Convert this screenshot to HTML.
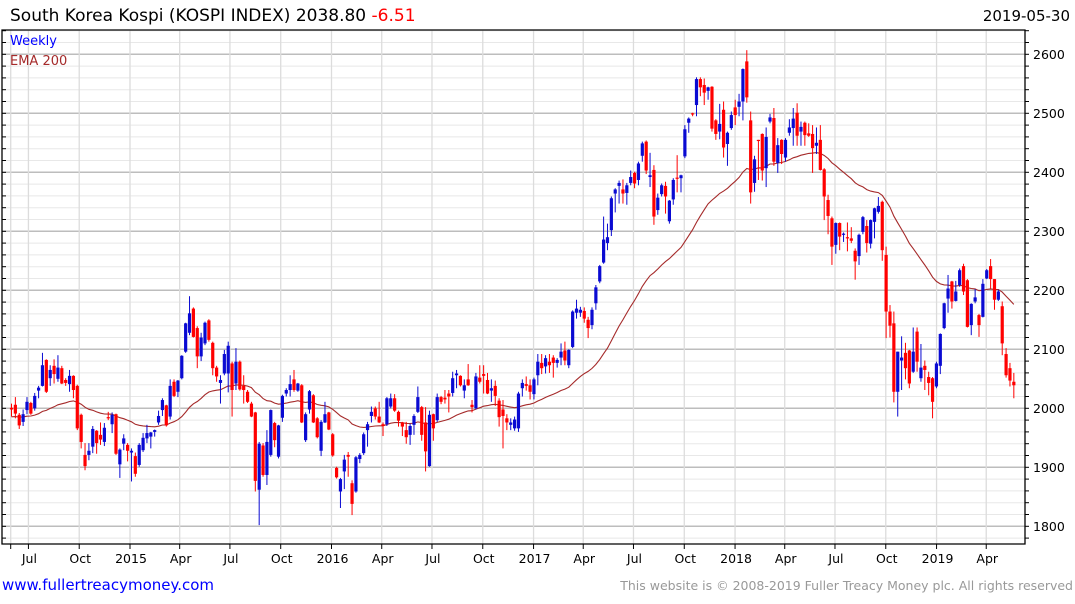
<!DOCTYPE html>
<html><head><meta charset="utf-8">
<style>
html,body{margin:0;padding:0;background:#fff;}
body{width:1075px;height:600px;overflow:hidden;font-family:"DejaVu Sans","Liberation Sans",sans-serif;}
svg text{font-family:"DejaVu Sans","Liberation Sans",sans-serif;}
</style></head>
<body>
<svg id="chart" width="1075" height="600" xmlns="http://www.w3.org/2000/svg">
<text x="10" y="21" font-size="17" fill="#000">South Korea Kospi (KOSPI INDEX) 2038.80 <tspan fill="#ff0000">-6.51</tspan></text>
<text x="1070" y="21" font-size="15" fill="#000" text-anchor="end">2019-05-30</text>
<g id="grid"></g>
<g id="ema"></g>
<g id="candles"></g>
<g id="axes"></g>
<text x="10" y="45" font-size="13" fill="#0000ff">Weekly</text>
<text x="10" y="65" font-size="13" fill="#a52a2a">EMA 200</text>
<text x="2" y="590" font-size="15" fill="#0000ff">www.fullertreacymoney.com</text>
<text x="1073" y="590" font-size="12.5" fill="#999" text-anchor="end">This website is © 2008-2019 Fuller Treacy Money plc. All rights reserved</text>
</svg>
<script>
const open=[2001,2006,1989,1977,1997,2009,2000,2030,2038,2082,2051,2072,2050,2068,2048,2041,2055,2038,1989,1921,1921,1935,1962,1955,1943,1985,1973,1990,1905,1940,1938,1925,1919,1904,1929,1949,1952,1960,1976,1997,2005,1986,2045,2028,2051,2096,2128,2169,2136,2088,2110,2149,2111,2069,2043,2059,2059,2076,2042,2079,2038,2028,2008,1993,1862,1937,1887,1921,1975,1918,1984,2025,2031,2049,2030,2039,1946,1998,2022,1983,1928,1976,1993,1956,1899,1859,1893,1921,1873,1859,1914,1924,1963,1987,2000,1986,1973,1973,2003,2017,1994,1976,1963,1955,1972,1994,2002,1976,1902,1990,1980,2019,2018,2025,2026,2056,2055,2030,2049,2006,2000,2052,2058,2048,2030,2038,2013,1998,1983,1972,1966,1966,2034,2041,2039,2024,2056,2077,2071,2079,2086,2077,2086,2098,2073,2104,2162,2162,2165,2150,2141,2178,2215,2247,2280,2302,2364,2377,2371,2365,2382,2399,2387,2428,2452,2392,2404,2336,2363,2377,2317,2354,2391,2390,2427,2484,2500,2514,2558,2548,2538,2545,2488,2469,2506,2448,2475,2510,2511,2520,2588,2488,2382,2455,2465,2407,2486,2492,2416,2455,2425,2467,2475,2501,2469,2484,2466,2465,2445,2455,2405,2353,2322,2277,2314,2294,2290,2288,2267,2258,2299,2309,2279,2316,2333,2350,2260,2164,2144,2028,2081,2094,2098,2062,2130,2051,2072,2053,2051,2037,2072,2136,2186,2215,2182,2209,2241,2217,2141,2181,2158,2155,2220,2241,2219,2184,2173,2092,2068,2045];
const high=[2008,2019,1992,1998,2019,2011,2026,2038,2094,2083,2073,2083,2090,2072,2051,2065,2056,2040,1991,1941,1941,1970,1963,1976,1975,1994,1993,1991,1932,1956,1941,1932,1925,1941,1958,1972,1960,1964,1996,2017,2006,2049,2049,2048,2090,2145,2190,2171,2139,2128,2147,2151,2113,2072,2056,2099,2113,2079,2102,2081,2056,2031,2011,1994,1943,1941,1963,1998,1977,1972,2023,2034,2056,2065,2043,2041,1993,2031,2024,1985,1980,2011,1994,1958,1901,1882,1921,1926,1878,1919,1924,1959,1977,2003,2003,2011,1976,2019,2025,2024,1996,1977,1977,1974,1990,2037,2004,2002,1996,1991,2025,2021,2031,2031,2062,2065,2056,2049,2075,2014,2060,2073,2073,2060,2049,2047,2017,2014,1990,1983,1986,2028,2049,2054,2049,2052,2092,2092,2090,2092,2090,2085,2110,2113,2100,2166,2184,2172,2171,2155,2171,2209,2243,2325,2313,2359,2373,2386,2388,2382,2403,2401,2418,2452,2454,2433,2412,2364,2381,2384,2353,2390,2429,2396,2480,2493,2501,2561,2561,2559,2545,2546,2490,2516,2520,2469,2503,2523,2533,2576,2607,2503,2428,2455,2466,2476,2499,2509,2458,2456,2458,2490,2509,2517,2486,2486,2483,2480,2476,2480,2407,2362,2325,2315,2315,2298,2315,2307,2271,2296,2326,2319,2320,2340,2358,2352,2274,2175,2164,2096,2122,2111,2099,2137,2137,2109,2081,2062,2053,2079,2127,2179,2226,2216,2216,2237,2245,2219,2178,2202,2160,2219,2236,2253,2219,2201,2181,2102,2077,2060];
const low=[1986,1983,1965,1970,1990,1989,1996,2017,2037,2026,2038,2042,2045,2041,2038,2028,2017,1963,1932,1895,1912,1924,1923,1938,1936,1980,1958,1921,1882,1929,1910,1876,1884,1901,1926,1941,1932,1952,1972,1987,1969,1981,2019,2019,2049,2094,2124,2120,2068,2080,2107,2113,2056,2045,2008,2056,2027,1986,2031,2030,2008,2009,1985,1859,1802,1884,1870,1918,1934,1915,1977,2020,2020,2028,2028,1975,1943,1991,1975,1949,1919,1975,1963,1918,1881,1831,1863,1884,1819,1857,1907,1921,1935,1976,1981,1975,1953,1970,2000,1994,1969,1953,1940,1938,1955,1992,1945,1893,1901,1945,1977,2007,2008,1993,2020,2034,2037,2017,2038,1993,1998,2042,2025,2024,2011,2004,1969,1932,1963,1963,1962,1960,2020,2030,2015,2015,2039,2058,2059,2060,2052,2069,2073,2073,2068,2102,2152,2155,2145,2119,2134,2167,2212,2245,2268,2292,2332,2347,2347,2345,2378,2373,2378,2418,2397,2375,2311,2328,2359,2330,2313,2345,2366,2366,2424,2467,2495,2495,2529,2514,2523,2469,2455,2456,2425,2411,2472,2480,2495,2488,2518,2347,2367,2387,2386,2375,2483,2411,2399,2414,2418,2462,2445,2445,2445,2445,2460,2399,2431,2403,2319,2295,2243,2262,2268,2282,2266,2280,2218,2243,2295,2264,2271,2288,2330,2250,2119,2120,2010,1986,2031,2049,2034,2060,2062,2045,2031,2022,1983,2034,2058,2134,2162,2169,2181,2206,2192,2137,2124,2178,2121,2154,2219,2203,2167,2182,2090,2052,2037,2017];
const close=[1998,1991,1971,1990,2011,1991,2021,2035,2073,2028,2065,2058,2069,2042,2043,2055,2031,1966,1943,1902,1928,1965,1941,1947,1967,1984,1989,1923,1930,1949,1928,1928,1889,1938,1950,1958,1959,1963,1987,2014,1971,2038,2021,2047,2089,2144,2161,2121,2088,2120,2145,2116,2068,2054,2048,2092,2106,2031,2079,2032,2031,2011,1986,1877,1940,1887,1943,1997,1946,1971,2021,2031,2041,2031,2042,1976,1990,2029,1976,1951,1977,1990,1964,1920,1883,1880,1913,1918,1838,1917,1921,1956,1973,1994,1986,1976,1970,2017,2017,1996,1979,1969,1951,1970,1987,2019,1955,1927,1989,1966,2019,2011,2015,2020,2051,2059,2039,2039,2039,2002,2054,2045,2055,2025,2034,2021,1985,1987,1976,1976,1981,2025,2043,2038,2028,2049,2079,2068,2085,2073,2077,2082,2096,2081,2099,2164,2169,2167,2152,2136,2167,2205,2241,2286,2290,2356,2371,2382,2364,2378,2392,2381,2415,2449,2403,2395,2325,2357,2378,2359,2352,2387,2389,2395,2473,2491,2498,2558,2544,2535,2544,2474,2465,2482,2442,2467,2497,2497,2520,2575,2527,2366,2422,2453,2403,2460,2493,2418,2446,2431,2455,2476,2491,2462,2477,2463,2462,2441,2450,2404,2359,2326,2274,2314,2291,2296,2288,2284,2249,2294,2324,2280,2319,2339,2343,2268,2164,2140,2028,2096,2086,2068,2042,2096,2079,2069,2065,2043,2011,2076,2126,2178,2203,2181,2198,2234,2198,2138,2177,2188,2141,2211,2234,2219,2184,2198,2110,2056,2047,2039];
const yTicks=[1800,1900,2000,2100,2200,2300,2400,2500,2600];
const xLabels=["Jul","Oct","2015","Apr","Jul","Oct","2016","Apr","Jul","Oct","2017","Apr","Jul","Oct","2018","Apr","Jul","Oct","2019","Apr"];
const xLabelDates=["2014-07-01","2014-10-01","2015-01-01","2015-04-01","2015-07-01","2015-10-01","2016-01-01","2016-04-01","2016-07-01","2016-10-01","2017-01-01","2017-04-01","2017-07-01","2017-10-01","2018-01-01","2018-04-01","2018-07-01","2018-10-01","2019-01-01","2019-04-01"];
const emaPeriod=40;
const emaSeed=1985;

const NS="http://www.w3.org/2000/svg";
const L=2,R=1025,T=30,B=544;
const x0=11.5,dx=3.87;
function xIdx(i){return x0+i*dx;}
function yVal(v){return 408.3-(v-2000)*0.59;}
function xDate(s){const d=new Date(s+"T00:00:00Z");const ref=Date.UTC(2015,0,1);return 130+(d-ref)/86400000*201.5/365;}
function mk(tag,attrs,parent){const e=document.createElementNS(NS,tag);for(const k in attrs)e.setAttribute(k,attrs[k]);parent.appendChild(e);return e;}

const grid=document.getElementById('grid');
for(let v=1780;v<=2640;v+=20){const y=yVal(v);if(y<T||y>B)continue;const major=v%100===0;
 const ln=mk('line',{x1:L,x2:R,y1:y,y2:y,stroke:major?'#bdbdbd':'#e8e8e8','stroke-width':major?1.5:1},grid);
 
 }
const vlines=[10.7].concat(xLabelDates.map(xDate));
vlines.forEach(x=>{const ln=mk('line',{x1:x,x2:x,y1:T,y2:B,stroke:'#dcdcdc','stroke-width':1.3},grid);
 
 });

const alpha=2/(emaPeriod+1);let e=emaSeed;const pts=[];
close.forEach((c,i)=>{e=e+alpha*(c-e);pts.push(xIdx(i).toFixed(1)+','+yVal(e).toFixed(1));});
const emaLine=mk('polyline',{points:pts.join(' '),fill:'none',stroke:'#a52a2a','stroke-width':1.1},document.getElementById('ema'));



const cg=document.getElementById('candles');
close.forEach((c,i)=>{const o=open[i];const up=c>=o;const col=up?'#0a0ad2':'#ff0000';const x=xIdx(i);
 const g=mk('g',{},cg);
 
 
 mk('line',{x1:x,x2:x,y1:yVal(high[i]),y2:yVal(low[i]),stroke:col,'stroke-width':1},g);
 const yt=yVal(Math.max(o,c)),yb=yVal(Math.min(o,c));
 mk('rect',{x:x-1.6,y:yt,width:3.2,height:Math.max(1.2,yb-yt),fill:col},g);});

const ax=document.getElementById('axes');
const frame=mk('path',{d:`M${L},${T} L${R},${T} L${R},${B} L${L},${B} Z`,fill:'none',stroke:'#000','stroke-width':1.3},ax);


for(let v=1780;v<=2640;v+=20){const y=yVal(v);if(y<T||y>B)continue;
 mk('line',{x1:R,x2:R+4,y1:y,y2:y,stroke:'#000','stroke-width':1},ax);
 mk('line',{x1:L,x2:L+4,y1:y,y2:y,stroke:'#000','stroke-width':1},ax);}
yTicks.forEach(v=>{const t=mk('text',{x:R+8,y:yVal(v)+4.5,'font-size':12.5,fill:'#000'},ax);t.textContent=v;
 
 });
vlines.forEach(x=>{mk('line',{x1:x,x2:x,y1:B,y2:B+5,stroke:'#000','stroke-width':1},ax);});
xLabels.forEach((s,i)=>{const x=xDate(xLabelDates[i]);const t=mk('text',{x:x+1,y:563,'font-size':12.5,fill:'#000','text-anchor':'middle'},ax);t.textContent=s;
 
 });
</script>
</body></html>
